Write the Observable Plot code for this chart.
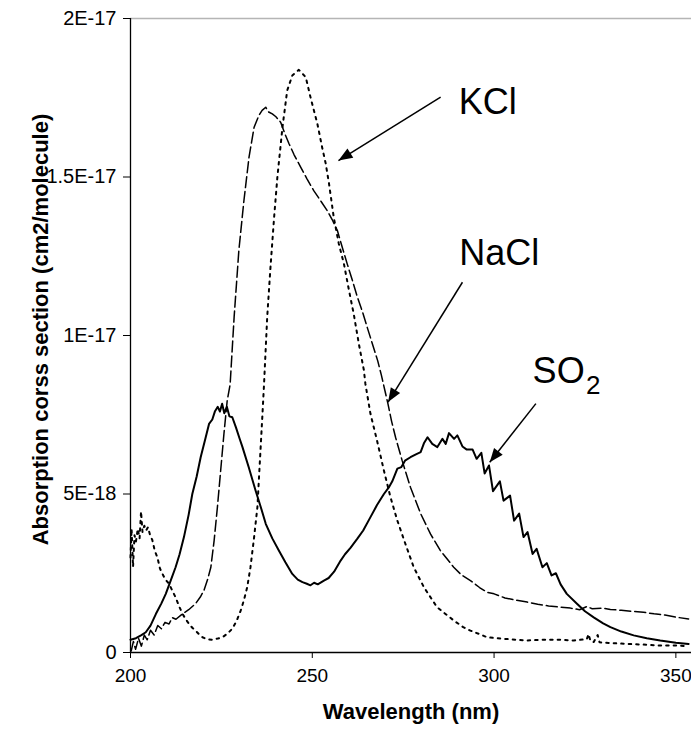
<!DOCTYPE html>
<html><head><meta charset="utf-8">
<script src="https://cdn.jsdelivr.net/npm/d3@7"></script>
<script src="https://cdn.jsdelivr.net/npm/@observablehq/plot@0.6"></script>
<style>
html,body{margin:0;padding:0;background:#fff;}
</style></head><body><div id="chart"></div>
<script>
// Absorption cross sections, in units of 1E-18 cm2/molecule
const so2Wavelength = [200.0,201.5,203.0,204.2,205.5,207.0,208.5,209.7,211.0,212.4,213.5,214.7,216.0,217.0,218.2,219.3,220.5,221.6,222.5,223.2,224.0,224.6,225.2,225.8,226.5,227.2,228.0,229.0,230.0,230.8,232.5,234.4,235.8,237.2,239.0,240.8,242.6,244.5,246.0,247.3,248.5,249.5,250.5,251.5,253.2,254.5,256.0,257.8,259.0,260.5,262.4,264.0,266.0,267.8,269.7,271.0,272.0,273.4,274.5,275.5,277.0,278.5,279.8,280.7,281.7,283.0,284.4,285.8,286.7,287.6,289.0,289.9,291.3,292.5,294.1,295.2,296.5,297.4,298.6,299.7,301.6,302.6,304.4,305.5,306.9,308.1,309.2,310.6,311.7,313.3,314.5,315.8,317.0,318.3,320.0,322.8,325.0,327.4,330.0,332.0,335.0,338.4,342.0,345.7,350.0,353.5];
const so2Sigma = [0.40,0.45,0.55,0.64,0.85,1.22,1.55,1.85,2.25,2.69,3.10,3.64,4.35,5.00,5.55,6.16,6.70,7.21,7.35,7.60,7.75,7.60,7.85,7.55,7.75,7.45,7.42,7.10,6.75,6.48,5.85,5.11,4.60,4.06,3.60,3.22,2.85,2.48,2.30,2.22,2.17,2.12,2.20,2.15,2.27,2.35,2.55,2.90,3.10,3.30,3.59,3.85,4.27,4.65,5.00,5.20,5.40,5.80,5.85,6.05,6.16,6.25,6.32,6.60,6.79,6.58,6.48,6.74,6.58,6.92,6.74,6.85,6.50,6.40,6.40,6.11,6.30,5.65,5.90,5.09,5.40,4.79,4.95,4.16,4.38,3.64,3.80,3.11,3.27,2.69,2.82,2.43,2.50,2.15,1.85,1.54,1.30,1.11,0.92,0.80,0.66,0.54,0.45,0.38,0.31,0.27];

const naclWavelength = [200.2,200.8,201.4,202.2,203.0,203.8,204.6,205.5,206.5,207.5,208.5,209.5,210.6,211.5,212.5,214.3,216.0,217.9,219.2,220.2,221.2,222.1,223.0,223.9,224.8,225.7,226.6,227.4,228.5,229.8,231.2,232.6,234.0,235.3,236.2,237.2,238.0,239.0,240.0,241.3,242.5,243.6,245.0,246.8,248.5,250.4,252.0,254.1,255.5,256.9,258.2,259.6,261.0,262.4,263.8,265.1,266.5,268.0,269.0,270.0,270.8,271.8,272.9,274.7,277.0,279.8,282.5,285.2,288.9,291.0,293.5,296.0,298.1,300.0,303.0,306.0,309.1,312.0,315.0,318.2,321.0,323.5,325.5,327.0,330.0,332.0,335.0,338.0,341.1,344.0,347.0,350.3,353.5];
const naclSigma = [0.05,0.35,0.10,0.45,0.20,0.55,0.40,0.70,0.55,0.85,0.75,0.95,0.90,1.10,1.05,1.22,1.35,1.54,1.75,1.96,2.30,2.69,3.53,4.58,5.74,6.90,7.95,8.45,10.58,12.68,14.26,15.63,16.57,16.94,17.10,17.20,17.05,16.99,16.90,16.73,16.35,16.05,15.70,15.31,14.95,14.57,14.30,13.94,13.65,13.31,12.80,12.26,11.75,11.21,10.75,10.26,9.75,9.20,8.75,8.25,7.85,7.30,6.79,6.06,5.21,4.38,3.74,3.22,2.69,2.45,2.27,2.05,1.90,1.85,1.72,1.65,1.59,1.52,1.47,1.43,1.40,1.35,1.45,1.38,1.40,1.36,1.33,1.30,1.27,1.22,1.18,1.11,1.06];

const kclWavelength = [200.0,200.3,200.7,201.1,201.5,202.0,202.5,202.9,203.3,203.8,204.3,204.8,205.4,206.0,206.7,207.4,208.1,208.8,209.6,210.6,211.5,212.4,213.4,214.3,215.2,216.1,217.0,217.9,218.8,219.8,221.0,222.5,224.0,225.3,226.7,228.0,229.2,230.3,231.2,232.1,233.0,234.0,234.9,235.3,235.8,236.3,236.7,237.6,238.5,239.5,240.4,241.8,243.1,244.5,246.3,248.2,249.5,251.4,252.7,253.7,254.6,255.9,257.3,258.7,260.1,261.4,262.8,264.2,264.6,266.0,267.8,269.7,271.5,273.4,275.6,277.9,280.7,284.3,288.9,291.5,293.5,296.0,298.1,300.0,304.0,309.1,313.0,318.2,322.0,325.5,326.0,326.5,327.4,328.5,329.0,332.0,336.5,341.0,345.7,350.0,353.5];
const kclSigma = [3.0,3.9,2.7,3.7,3.5,3.9,3.6,4.45,3.8,4.0,3.85,3.95,3.7,3.55,3.2,3.0,2.65,2.48,2.30,2.17,1.95,1.74,1.45,1.22,1.05,0.90,0.78,0.69,0.58,0.48,0.42,0.40,0.44,0.48,0.60,0.75,1.00,1.32,1.65,2.06,2.69,3.64,4.58,5.43,6.48,7.53,8.40,10.58,12.15,13.73,15.00,16.57,17.73,18.20,18.38,18.15,17.52,16.68,15.94,15.42,14.79,13.73,12.89,12.26,11.42,10.68,9.74,8.90,8.48,7.53,6.69,5.74,4.90,4.16,3.43,2.69,2.06,1.43,1.01,0.80,0.69,0.58,0.48,0.46,0.42,0.38,0.40,0.40,0.38,0.42,0.58,0.36,0.33,0.55,0.32,0.30,0.27,0.25,0.22,0.22,0.20];

const xTicks = [200, 250, 300, 350];
const yTicks = [0, 5, 10, 15, 20];
const yTickLabels = ["0", "5E-18", "1E-17", "1.5E-17", "2E-17"];
const xTitle = "Wavelength (nm)";
const yTitle = "Absorption corss section (cm2/molecule)";

// annotations (data coordinates)
const labelText = ["KCl", "NaCl", "SO"];
const labelX = [290.3, 290.4, 310.6];
const labelY = [17.0, 12.23, 8.49];
const subText = ["2"];
const subX = [325.3];
const subY = [8.15];
const arrowX1 = [285.3, 291.3, 311.5];
const arrowY1 = [17.52, 11.68, 7.85];
const arrowX2 = [257.2, 270.85, 298.8];
const arrowY2 = [15.52, 7.90, 6.00];

const W = 691, H = 729, mL = 130, mR = 0, mT = 18, mB = 77;
const xDomain = [200, 354.3];
const yDomain = [0, 20];

const rows = (xs, ys) => xs.map((x, i) => ({x, y: ys[i]}));
const so2 = rows(so2Wavelength, so2Sigma);
const nacl = rows(naclWavelength, naclSigma);
const kcl = rows(kclWavelength, kclSigma);
const labels = labelText.map((t, i) => ({t, x: labelX[i], y: labelY[i]}));
const subs = subText.map((t, i) => ({t, x: subX[i], y: subY[i]}));

const sx = Plot.scale({x: {domain: xDomain, range: [mL, W - mR]}});
const sy = Plot.scale({y: {domain: yDomain, range: [H - mB, mT]}});
const arrows = arrowX1.map((x1, i) => {
  const dx = sx.apply(arrowX2[i]) - sx.apply(x1);
  const dy = sy.apply(arrowY2[i]) - sy.apply(arrowY1[i]);
  return {x1, y1: arrowY1[i], x2: arrowX2[i], y2: arrowY2[i], angle: Math.atan2(dx, -dy) * 180 / Math.PI};
});
const arrowHead = {draw(ctx) { ctx.moveTo(0, 0); ctx.lineTo(-5.5, 14); ctx.lineTo(5.5, 14); ctx.closePath(); }};

const font = "'Liberation Sans', Arial, Helvetica, sans-serif";
const chart = Plot.plot({
  width: W, height: H,
  marginLeft: mL, marginRight: mR, marginTop: mT, marginBottom: mB,
  style: {fontFamily: font, fontSize: "20px", color: "black", background: "white"},
  x: {domain: xDomain},
  y: {domain: yDomain},
  marks: [
    Plot.ruleY([20], {stroke: "#b5b5b5", strokeWidth: 1.3}),
    Plot.axisX({ticks: xTicks, tickSize: 6, tickPadding: 10, fontSize: 19, label: null, tickFormat: d => String(d)}),
    Plot.axisY({ticks: yTicks, tickSize: 7, tickPadding: 7, fontSize: 20, label: null,
      tickFormat: d => yTickLabels[yTicks.indexOf(d)]}),
    Plot.ruleY([0], {stroke: "black", strokeWidth: 1.3}),
    Plot.ruleX([200], {stroke: "black", strokeWidth: 1.3}),
    Plot.line(kcl, {x: "x", y: "y", stroke: "black", strokeWidth: 2, strokeDasharray: "2.5,5"}),
    Plot.line(nacl, {x: "x", y: "y", stroke: "black", strokeWidth: 1.5, strokeDasharray: "11,4"}),
    Plot.line(so2, {x: "x", y: "y", stroke: "black", strokeWidth: 2}),
    Plot.link(arrows, {x1: "x1", y1: "y1", x2: "x2", y2: "y2", stroke: "black", strokeWidth: 1.5}),
    Plot.dot(arrows, {x: "x2", y: "y2", symbol: arrowHead, r: 5, fill: "black", stroke: null, rotate: "angle"}),
    Plot.text(labels, {x: "x", y: "y", text: "t", textAnchor: "start", lineAnchor: "bottom", fontSize: 36, fill: "black"}),
    Plot.text(subs, {x: "x", y: "y", text: "t", textAnchor: "start", lineAnchor: "bottom", fontSize: 26, fill: "black"}),
    Plot.text([xTitle], {text: d => d, frameAnchor: "bottom", textAnchor: "middle", lineAnchor: "middle", dy: 59, fontSize: 22, fontWeight: "bold", fill: "black"}),
    Plot.text([yTitle], {text: d => d, frameAnchor: "left", textAnchor: "middle", lineAnchor: "middle", dx: -90, dy: -6, rotate: -90, fontSize: 22, fontWeight: "bold", fill: "black"})
  ]
});
document.getElementById("chart").appendChild(chart);
</script>
</body></html>
